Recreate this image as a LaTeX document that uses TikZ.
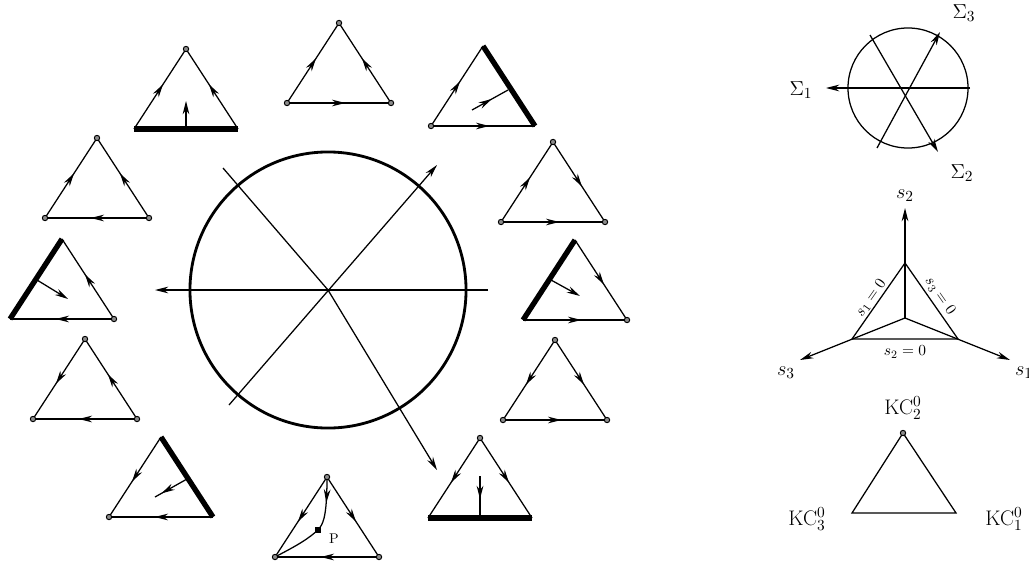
\documentclass[tikz,border=0pt]{standalone}
\usetikzlibrary{arrows.meta,decorations.markings}

\tikzset{
  side/.style={line width=0.9pt},
  thickside/.style={line width=3.8pt},
  midarrow/.style={postaction={decorate},decoration={markings,
    mark=at position #1 with {\arrow{Stealth[length=9.5pt,width=4.8pt]}}}},
  midarrow/.default=0.56,
  vdot/.style={draw,fill=black!45,line width=0.7pt},
  biglab/.style={font=\fontsize{15}{18}\selectfont},
  zerolab/.style={font=\fontsize{11}{13}\selectfont,inner sep=1pt}
}

% triangle corners: name, base centre x, base y
\newcommand{\tri}[3]{%
  \coordinate (#1t) at (#2,#3-80);
  \coordinate (#1l) at (#2-52,#3);
  \coordinate (#1r) at (#2+52,#3);
}

\begin{document}
\begin{tikzpicture}[x=0.025cm,y=-0.025cm,>={Stealth[length=9.5pt,width=4.8pt]}]
\useasboundingbox (0,0) rectangle (1029,565);

% Big circle and its three lines
\coordinate (O) at (328,290);
\draw[line width=2pt] (O) circle (3.45cm);
\coordinate (h1) at (488,290);
\coordinate (h2) at (155,290);
\coordinate (d1) at (229,405);
\coordinate (d2) at (437,165);
\coordinate (e1) at (223,168);
\coordinate (e2) at (437,470);
\draw[side,->] (h1) -- (h2);
\draw[side,->] (d1) -- (d2);
\draw[side,->] (e1) -- (O) -- (e2);

% T1 top left
\tri{a}{186}{129}
\draw[side,midarrow] (al) -- (at);
\draw[side,midarrow] (ar) -- (at);
\draw[thickside] (al) -- (ar);
\coordinate (am) at (186,129);
\coordinate (an) at (186,101);
\draw[side,->] (am) -- (an);
\filldraw[vdot] (at) circle (1.9pt);

% T2 top
\tri{b}{339}{103}
\draw[side,midarrow] (bl) -- (bt);
\draw[side,midarrow] (br) -- (bt);
\draw[side,midarrow] (bl) -- (br);
\foreach \v in {bt,bl,br} \filldraw[vdot] (\v) circle (1.9pt);

% T3 top right
\tri{c}{483}{126}
\draw[side,midarrow] (cl) -- (ct);
\draw[side,midarrow] (cl) -- (cr);
\draw[thickside] (ct) -- (cr);
\coordinate (cm) at (508,90);
\coordinate (cn) at (472,110);
\draw[side,midarrow=0.55] (cn) -- (cm);
\filldraw[vdot] (cl) circle (1.9pt);

% T4 right upper
\tri{d}{553}{222}
\draw[side,midarrow] (dl) -- (dt);
\draw[side,midarrow] (dt) -- (dr);
\draw[side,midarrow] (dl) -- (dr);
\foreach \v in {dt,dl,dr} \filldraw[vdot] (\v) circle (1.9pt);

% T5 left upper
\tri{e}{97}{218}
\draw[side,midarrow] (el) -- (et);
\draw[side,midarrow] (er) -- (et);
\draw[side,midarrow] (er) -- (el);
\foreach \v in {et,el,er} \filldraw[vdot] (\v) circle (1.9pt);

% T6 left middle
\tri{f}{62}{319}
\draw[side,midarrow] (fr) -- (ft);
\draw[side,midarrow] (fr) -- (fl);
\draw[thickside] (ft) -- (fl);
\coordinate (fm) at (37,280);
\coordinate (fn) at (68,299);
\draw[side,->] (fm) -- (fn);
\filldraw[vdot] (fr) circle (1.9pt);

% T7 right middle
\tri{g}{575}{320}
\draw[side,midarrow] (gt) -- (gr);
\draw[side,midarrow] (gl) -- (gr);
\draw[thickside] (gt) -- (gl);
\coordinate (gm) at (551,280);
\coordinate (gn) at (580,296);
\draw[side,->] (gm) -- (gn);
\filldraw[vdot] (gr) circle (1.9pt);

% T8 left lower
\tri{h}{85}{419}
\draw[side,midarrow] (ht) -- (hl);
\draw[side,midarrow] (hr) -- (ht);
\draw[side,midarrow] (hr) -- (hl);
\foreach \v in {ht,hl,hr} \filldraw[vdot] (\v) circle (1.9pt);

% T9 right lower
\tri{i}{555}{420}
\draw[side,midarrow] (it) -- (il);
\draw[side,midarrow] (it) -- (ir);
\draw[side,midarrow] (il) -- (ir);
\foreach \v in {it,il,ir} \filldraw[vdot] (\v) circle (1.9pt);

% T10 bottom left
\tri{j}{161}{517}
\draw[side,midarrow] (jt) -- (jl);
\draw[side,midarrow] (jr) -- (jl);
\draw[thickside] (jt) -- (jr);
\coordinate (jm) at (187,479);
\coordinate (jn) at (155,497);
\draw[side,midarrow=0.8] (jm) -- (jn);
\filldraw[vdot] (jl) circle (1.9pt);

% T11 bottom, with the point P
\tri{k}{327}{557}
\draw[side,midarrow] (kt) -- (kl);
\draw[side,midarrow] (kt) -- (kr);
\draw[side,midarrow] (kr) -- (kl);
\node[draw,fill,inner sep=0pt,minimum size=3.5pt] (P) at (318,530) {};
\node[inner sep=1pt] (Plab) at (334,539) {P};
\draw[side,midarrow=0.5] (kt) .. controls (327,512) and (324,522) .. (P);
\draw[side] (P) .. controls (304,542) and (290,549) .. (kl);
\foreach \v in {kt,kl,kr} \filldraw[vdot] (\v) circle (1.9pt);

% T12 bottom right
\tri{m}{480}{518}
\draw[side,midarrow] (mt) -- (ml);
\draw[side,midarrow] (mt) -- (mr);
\draw[thickside] (ml) -- (mr);
\coordinate (mm) at (480,476);
\coordinate (mn) at (480,518);
\draw[side,midarrow=0.55] (mm) -- (mn);
\filldraw[vdot] (mt) circle (1.9pt);

% Small circle with Sigma directions
\coordinate (Q) at (908,88);
\draw[side] (Q) circle (1.5cm);
\coordinate (q1) at (970,88);
\coordinate (q2) at (826,88);
\coordinate (q3) at (870,35);
\coordinate (q4) at (938,152);
\coordinate (q5) at (877,148);
\coordinate (q6) at (940,32);
\draw[side,->] (q1) -- (q2);
\draw[side,->] (q3) -- (q4);
\draw[side,->] (q5) -- (q6);
\node[biglab] (S1) at (801,90) {$\Sigma_1$};
\node[biglab] (S2) at (962,173) {$\Sigma_2$};
\node[biglab] (S3) at (964,13) {$\Sigma_3$};

% s axes through the corners of the triangle s_i = 0
\coordinate (R) at (905,318);
\coordinate (st) at (905,263);
\coordinate (sl) at (852,339);
\coordinate (sr) at (958,339);
\coordinate (r2) at (905,208);
\coordinate (r3) at (800,360);
\coordinate (r1) at (1010,360);
\draw[side,->] (R) -- (r2);
\draw[side,->] (R) -- (r3);
\draw[side,->] (R) -- (r1);
\draw[side] (st) -- (sl) -- (sr) -- cycle;
\node[biglab] (s2lab) at (905,196) {$s_2$};
\node[biglab] (s3lab) at (786,373) {$s_3$};
\node[biglab] (s1lab) at (1024,373) {$s_1$};
\node[zerolab,rotate=55] (z1) at (871,298) {$s_1=0$};
\node[zerolab,rotate=-55] (z3) at (940,296) {$s_3=0$};
\node[zerolab] (z2) at (905,352) {$s_2=0$};

% KC triangle
\coordinate (kc2) at (903,433);
\coordinate (kc3) at (852,513);
\coordinate (kc1) at (956,513);
\draw[side] (kc2) -- (kc3) -- (kc1) -- cycle;
\filldraw[vdot] (kc2) circle (1.9pt);
\node[biglab] (K2) at (903,408) {KC$_2^0$};
\node[biglab] (K3) at (807,519) {KC$_3^0$};
\node[biglab] (K1) at (1004,519) {KC$_1^0$};

\end{tikzpicture}
\end{document}
